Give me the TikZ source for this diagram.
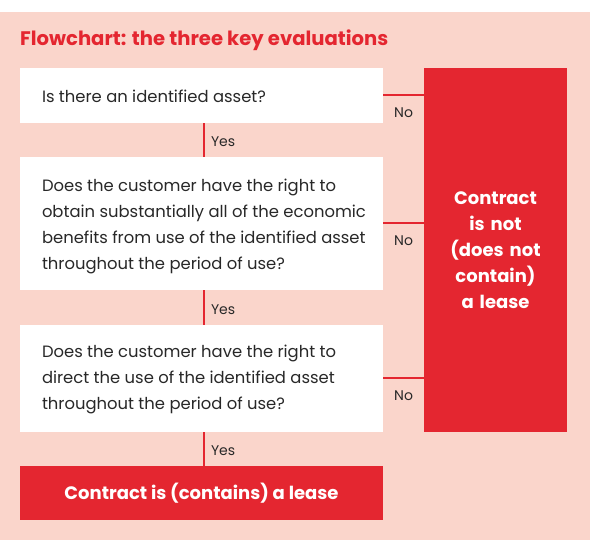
\documentclass[tikz,border=0pt]{standalone}
\usepackage{fontspec}
\setmainfont{Poppins}
\definecolor{bgpink}{RGB}{250,213,203}
\definecolor{kred}{RGB}{228,38,48}
\definecolor{ktext}{RGB}{40,40,40}
\tikzset{
  qbox/.style={fill=white, draw=none, minimum width=363pt, inner sep=0pt, anchor=center},
  qtext/.style={anchor=west, align=left, inner sep=0pt, font=\fontsize{16.4}{26}\selectfont, text=ktext},
  redbox/.style={fill=kred, draw=none, text=white, align=center, font=\fontsize{18}{26}\selectfont\bfseries},
  conn/.style={draw=kred, line width=2pt},
  lbl/.style={font=\fontsize{14}{15}\selectfont, text=ktext, inner sep=0pt}
}
\begin{document}
\begin{tikzpicture}[x=1pt,y=-1pt]
\useasboundingbox (0,0) rectangle (600,545);
\fill[bgpink] (0,12) rectangle (590,540);
\node[anchor=west, text=kred, font=\fontsize{19.6}{22}\selectfont\bfseries, inner sep=0pt] (title) at (20,40) {Flowchart: the three key evaluations};
\node[qbox, minimum height=55pt] (b1) at (201.5,95.5) {};
\node[qtext] (t1) at ([xshift=22pt,yshift=-1pt]b1.west) {Is there an identified asset?};
\node[qbox, minimum height=133pt] (b2) at (201.5,223.5) {};
\node[qtext] (t2) at ([xshift=22pt,yshift=-3pt]b2.west) {Does the customer have the right to\\obtain substantially all of the economic\\benefits from use of the identified asset\\throughout the period of use?};
\node[qbox, minimum height=107pt] (b3) at (201.5,378.5) {};
\node[qtext] (t3) at ([xshift=22pt,yshift=-1pt]b3.west) {Does the customer have the right to\\direct the use of the identified asset\\throughout the period of use?};
\node[redbox, minimum width=363pt, minimum height=54pt] (yes) at (201.5,493) {Contract is (contains) a lease};
\node[redbox, minimum width=143pt, minimum height=364pt, text width=130pt] (no) at (495.5,250) {Contract\\is not\\(does not\\contain)\\a lease};
\draw[conn] ([xshift=2.5pt]b1.south) -- node[lbl, anchor=west, xshift=6pt, yshift=-2pt] {Yes} ([xshift=2.5pt]b2.north);
\draw[conn] ([xshift=2.5pt]b2.south) -- node[lbl, anchor=west, xshift=6pt, yshift=-2pt] {Yes} ([xshift=2.5pt]b3.north);
\draw[conn] ([xshift=2.5pt]b3.south) -- node[lbl, anchor=west, xshift=6pt, yshift=-2pt] {Yes} ([xshift=2.5pt]yes.north);
\draw[conn] (b1.east) -- node[lbl, pos=0, anchor=north west, xshift=10pt, yshift=-11pt] {No} (b1.east -| no.west);
\draw[conn] (b2.east) -- node[lbl, pos=0, anchor=north west, xshift=10pt, yshift=-11pt] {No} (b2.east -| no.west);
\draw[conn] (b3.east) -- node[lbl, pos=0, anchor=north west, xshift=10pt, yshift=-11pt] {No} (b3.east -| no.west);
\end{tikzpicture}
\end{document}
